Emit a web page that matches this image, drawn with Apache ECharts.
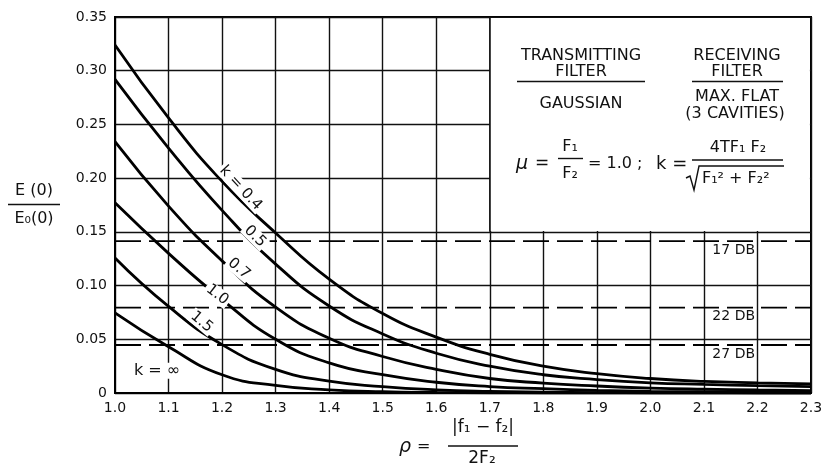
<!DOCTYPE html>
<html><head><meta charset="utf-8">
<script src="https://cdn.jsdelivr.net/npm/echarts@6/dist/echarts.min.js"></script>
<style>html,body{margin:0;padding:0;background:#fff}#c{width:827px;height:470px}</style>
</head><body><div id="c"></div>
<script>
// ---- data ----
const rho = [1.0,1.1,1.2,1.3,1.4,1.5,1.6,1.7,1.8,1.9,2.0,2.1,2.2,2.3];
const k04 = [0.324,0.256,0.197,0.149,0.106,0.074,0.052,0.036,0.025,0.018,0.0135,0.0108,0.0095,0.0085];
const k05 = [0.292,0.228,0.170,0.120,0.081,0.055,0.037,0.025,0.017,0.0125,0.0095,0.008,0.0068,0.006];
const k07 = [0.234,0.174,0.123,0.080,0.051,0.034,0.022,0.0135,0.0092,0.0065,0.0046,0.0035,0.0028,0.0022];
const k10 = [0.177,0.130,0.087,0.050,0.028,0.017,0.010,0.006,0.004,0.0025,0.0016,0.0011,0.0008,0.0006];
const k15 = [0.1257,0.0806,0.045,0.022,0.011,0.006,0.003,0.0015,0.0008,0.0004,0.0002,0.0001,0,0];
const kInf = [0.0745,0.043,0.017,0.007,0.003,0.0012,0.0005,0.0002,0,0,0,0,0,0];
const curveLabels = ['k = 0.4','0.5','0.7','1.0','1.5','k = ∞'];
const dbLevels = [0.1413, 0.0794, 0.0447];
const dbLabels = ['17 DB','22 DB','27 DB'];
const xTickLabels = ['1.0','1.1','1.2','1.3','1.4','1.5','1.6','1.7','1.8','1.9','2.0','2.1','2.2','2.3'];
const yTickLabels = ['0','0.05','0.10','0.15','0.20','0.25','0.30','0.35'];

// ---- layout / style ----
const FONT = '"DejaVu Sans", "Liberation Sans", sans-serif';
const INK = '#111';
const curves = [k04,k05,k07,k10,k15,kInf];
// label anchors (data coords) and rotations (deg)
const labelAnchors = [[1.2348,0.1908,-47],[1.2615,0.1458,-45],[1.2316,0.1157,-40],[1.1911,0.0915,-38],[1.1619,0.0661,-40],[1.0784,0.0208,0]];
const dbLabelX = 2.15;

const chart = echarts.init(document.getElementById('c'), null, {renderer:'canvas'});
const series = curves.map((v,i)=>({
  type:'line', name:curveLabels[i], data: rho.map((x,j)=>[x,v[j]]),
  smooth:0.5, showSymbol:false, symbol:'none', silent:true, z:3,
  lineStyle:{color:'#000', width:2.8}
}));
dbLevels.forEach((v,i)=>series.push({
  type:'line', name:dbLabels[i], data:[[rho[0],v],[rho[rho.length-1],v]],
  showSymbol:false, symbol:'none', silent:true, z:2,
  lineStyle:{color:'#000', width:1.8, type:[26,8]}
}));

chart.setOption({
  animation:false,
  grid:{left:115,right:16,top:17,bottom:77,show:true,borderColor:'#000',borderWidth:2,containLabel:false,outerBoundsMode:'none'},
  xAxis:{type:'value',min:1.0,max:2.3,interval:0.1,
    axisLine:{show:true,lineStyle:{color:'#000',width:2}},axisTick:{show:false},
    splitLine:{show:true,lineStyle:{color:INK,width:1.4}},
    axisLabel:{color:INK,fontSize:14,fontFamily:FONT,margin:8,
      formatter:v=>xTickLabels[Math.round((v-1)*10)]}},
  yAxis:{type:'value',min:0,max:0.35,interval:0.05,
    axisLine:{show:true,lineStyle:{color:'#000',width:2}},axisTick:{show:false},
    splitLine:{show:true,lineStyle:{color:INK,width:1.4}},
    axisLabel:{color:INK,fontSize:14,fontFamily:FONT,margin:8,
      formatter:v=>yTickLabels[Math.round(v/0.05)]}},
  series
});

const P = (x,y)=>chart.convertToPixel({gridIndex:0},[x,y]);
const g = [];
function txt(x,y,text,size,opt){
  opt = opt||{};
  g.push({type:'text',x:x,y:y,rotation:opt.rot||0,z:opt.z||20,silent:true,
    style:Object.assign({text:text,fill:INK,fontSize:size,fontFamily:FONT,
      fontStyle:opt.italic?'italic':'normal',
      align:opt.align||'center',verticalAlign:'middle'}, opt.bg?{backgroundColor:'#fff',padding:[0,2]}:{})});
}
function line(x1,y1,x2,y2,w){
  g.push({type:'line',z:20,silent:true,shape:{x1,y1,x2,y2},style:{stroke:INK,lineWidth:w||1.5}});
}
// annotation box (blank area hiding grid)
const b0 = P(1.7,0.35), b1 = P(2.3,0.15);
g.push({type:'rect',z:1,silent:true,shape:{x:b0[0]+0.8,y:b0[1]+1.1,width:b1[0]-b0[0]-1.9,height:b1[1]-b0[1]-1.9},style:{fill:'#fff'}});
line(b0[0],b0[1],b0[0],b1[1],1.4);

// curve labels
labelAnchors.forEach((a,i)=>{
  const p = P(a[0],a[1]);
  txt(p[0],p[1],curveLabels[i], i===5?16:15, {rot:a[2]*Math.PI/180, bg:true});
});
// dB labels
dbLevels.forEach((v,i)=>{
  const p = P(dbLabelX,v);
  txt(p[0]+3,p[1]+9,dbLabels[i],14,{bg:false});
});

// y axis title
txt(34,191,'E (0)',16);
line(8,204.5,60,204.5,1.4);
txt(34,219,'E₀(0)',16);

// x axis title
txt(399,447,'ρ',19,{align:'left',italic:true});
txt(417,447,'=',16,{align:'left'});
txt(483,428,'|f₁ − f₂|',17);
line(448,446,518,446,1.4);
txt(482,459,'2F₂',17);

// annotation text
txt(581,56,'TRANSMITTING',16);
txt(581,72,'FILTER',16);
line(517,81.5,645,81.5,1.5);
txt(581,104,'GAUSSIAN',16);
txt(737,56,'RECEIVING',16);
txt(737,72,'FILTER',16);
line(692,81.5,783,81.5,1.5);
txt(737,97,'MAX. FLAT',16);
txt(735,114,'(3 CAVITIES)',16);
txt(516,164,'μ',19,{align:'left',italic:true});
txt(535,164,'=',17,{align:'left'});
txt(570,147,'F₁',16);
line(558,158.5,583,158.5,1.4);
txt(570,174,'F₂',16);
txt(588,164,'= 1.0 ;',16,{align:'left'});
txt(656,164,'k =',18,{align:'left'});
txt(738,148,'4TF₁ F₂',16);
line(692,160,783,160,1.4);
g.push({type:'polyline',z:20,silent:true,shape:{points:[[686,178],[690,176],[694,190],[699,166],[784,166]]},style:{stroke:INK,lineWidth:1.4,fill:null}});
txt(702,179,'F₁² + F₂²',16,{align:'left'});

chart.setOption({graphic:g});
</script></body></html>
